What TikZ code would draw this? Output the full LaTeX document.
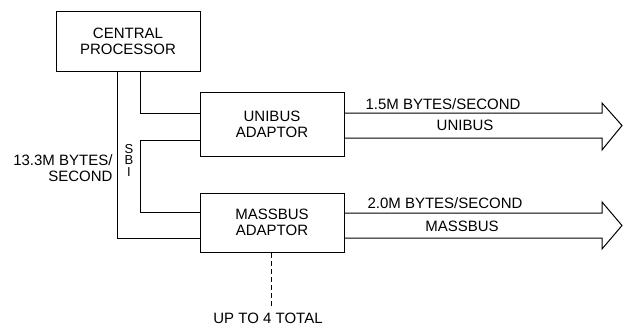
\documentclass[tikz,border=0pt]{standalone}
\usepackage{fontspec}
\setmainfont{Liberation Sans}
\begin{document}
\begin{tikzpicture}[x=1pt,y=-1pt,
  line width=1pt,
  box/.style={draw,minimum width=144pt,inner sep=0pt,align=center,font=\fontsize{15}{16}\selectfont},
  lbl/.style={inner sep=0pt,font=\fontsize{15}{15}\selectfont},
  bus/.style={draw,line join=miter}]
\useasboundingbox (0,0) rectangle (623,325);
\node[box,minimum height=60pt] (cp) at (128,41) {CENTRAL\\PROCESSOR};
\node[box,minimum height=64pt] (ua) at (272,124) {UNIBUS\\ADAPTOR};
\node[box,minimum height=59pt] (ma) at (272,222.5) {MASSBUS\\ADAPTOR};
% SBI lines
\draw (cp.south west -| 117,0) -- (117,238) -- (ma.west |- 0,238);
\draw (cp.south west -| 140,0) -- (140,113) -- (ua.west |- 0,113);
\draw (ua.west |- 0,140) -- (140,140) -- (140,212) -- (ma.west |- 0,212);
\node[lbl,align=center,font=\fontsize{13}{11.5}\selectfont] (sbi) at (129,160) {S\\B\\I};
\node[lbl,anchor=east,align=right,font=\fontsize{15}{16}\selectfont] (rate) at (113,168) {13.3M BYTES/\\SECOND};
% bus arrows
\coordinate (uT) at (ua.east |- 0,113);
\coordinate (uB) at (ua.east |- 0,138);
\draw[bus] (uT) -- (602,113) -- (602,103) -- (622,125.5) -- (602,150) -- (602,138) -- (uB);
\node[lbl,anchor=west] (ur) at (365,104) {1.5M BYTES/SECOND};
\node[lbl] (un) at (465,125.5) {UNIBUS};
\coordinate (mT) at (ma.east |- 0,213);
\coordinate (mB) at (ma.east |- 0,238);
\draw[bus] (mT) -- (602,213) -- (602,202) -- (622,225.5) -- (602,249) -- (602,238) -- (mB);
\node[lbl,anchor=west] (mr) at (367,203) {2.0M BYTES/SECOND};
\node[lbl] (mn) at (462,226) {MASSBUS};
% dashed
\node[lbl] (up) at (268,318) {UP TO 4 TOTAL};
\draw[dashed,dash pattern=on 5pt off 3pt] (ma.south -| 271,0) -- (271,306);
\end{tikzpicture}
\end{document}
